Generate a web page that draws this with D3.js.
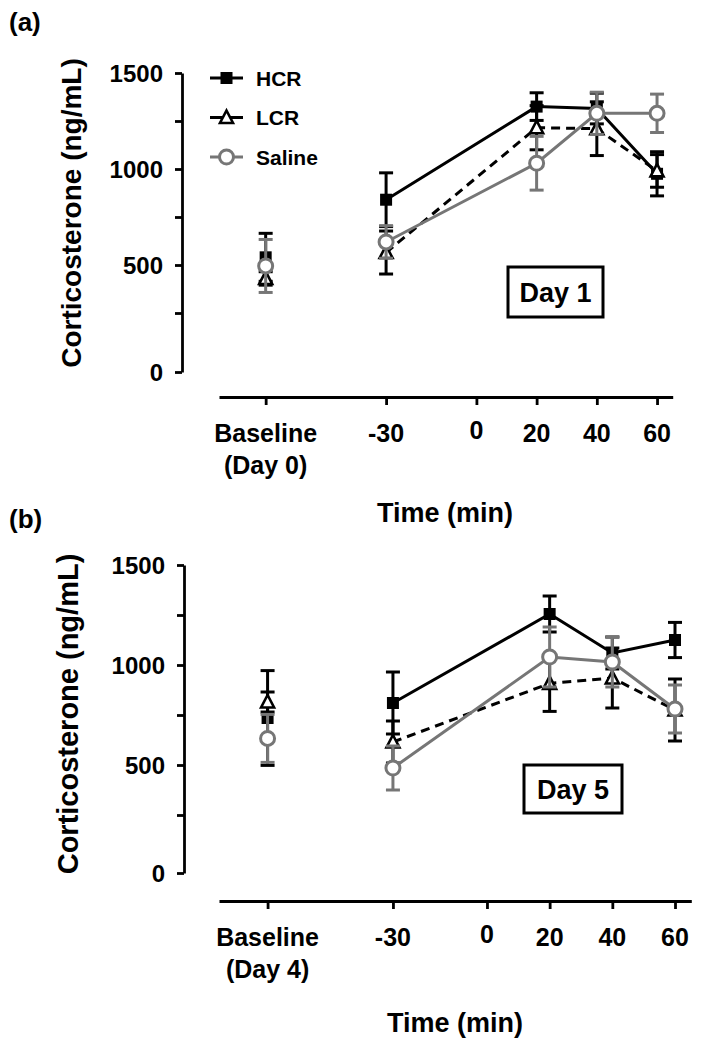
<!DOCTYPE html>
<html>
<head>
<meta charset="utf-8">
<script src="https://cdn.jsdelivr.net/npm/d3@7/dist/d3.min.js"></script>
<style>
  body { margin: 0; background: #fff; }
  svg { display: block; font-family: "Liberation Sans", Arial, sans-serif; font-weight: bold; }
</style>
</head>
<body>
<svg id="chart" width="711" height="1050"></svg>
<script>
// x categories: baseline is drawn left of the time axis, not joined by lines
const xCats = ["Baseline", "-30", "20", "40", "60"];
const xTickLabels = ["Baseline", "-30", "0", "20", "40", "60"];
const yTicks = [0, 250, 500, 750, 1000, 1250, 1500];
const seriesNames = ["HCR", "LCR", "Saline"];

// Day 1 (panel a), values per xCats
const hcrDay1 = [540, 840, 1325, 1315, 975];
const hcrDay1Sem = [125, 140, 72, 80, 115];
const lcrDay1 = [430, 565, 1215, 1210, 990];
const lcrDay1Sem = [35, 112, 115, 140, 85];
const salDay1 = [495, 620, 1030, 1290, 1290];
const salDay1Sem = [138, 85, 140, 110, 100];

// Day 5 (panel b)
const hcrDay5 = [735, 810, 1255, 1060, 1125];
const hcrDay5Sem = [237, 155, 90, 80, 88];
const lcrDay5 = [815, 615, 908, 935, 775];
const lcrDay5Sem = [50, 105, 140, 150, 155];
const salDay5 = [633, 485, 1040, 1015, 780];
const salDay5Sem = [120, 110, 150, 125, 120];

const GRAY = "#767676";
const styles = {
  HCR: { color: "#000", dash: null, symbol: "square" },
  LCR: { color: "#000", dash: "9,6", symbol: "triangle" },
  Saline: { color: GRAY, dash: null, symbol: "circle" }
};

const svg = d3.select("#chart");

// baseline sits at this pseudo-time on the linear time scale
const BASE_T = -70;
const tPos = c => c === "Baseline" ? BASE_T : +c;

function drawMarker(g, symbol, cx, cy, color) {
  if (symbol === "square") {
    g.append("rect").attr("x", cx - 6).attr("y", cy - 6)
      .attr("width", 12).attr("height", 12).attr("fill", color);
  } else if (symbol === "triangle") {
    g.append("path")
      .attr("d", `M${cx},${cy - 7} L${cx + 6.5},${cy + 5.5} L${cx - 6.5},${cy + 5.5} Z`)
      .attr("fill", "#fff").attr("stroke", color).attr("stroke-width", 2.6);
  } else {
    g.append("circle").attr("cx", cx).attr("cy", cy).attr("r", 7)
      .attr("fill", "#fff").attr("stroke", color).attr("stroke-width", 3);
  }
}

function drawPanel(cfg) {
  const x = d3.scaleLinear().domain([-85.5, 65.2]).range(cfg.xRange);
  // the zero tick sits a little below the linear run of the other ticks
  const y = d3.scaleLinear().domain([0, 250, 1500]).range(cfg.yRange);

  const g = svg.append("g");

  // panel letter
  g.append("text").attr("x", 9).attr("y", cfg.letterY)
    .attr("font-size", 26).text(cfg.letter);

  // y axis
  const yAxis = g.append("g")
    .attr("transform", `translate(${cfg.yAxisX},0)`)
    .call(d3.axisLeft(y).tickValues(yTicks).tickSize(7).tickSizeOuter(0).tickPadding(12)
      .tickFormat(d => d % 500 === 0 ? d : ""));
  yAxis.select(".domain").attr("stroke-width", 2.8);
  yAxis.selectAll(".tick line").attr("stroke-width", 2.8);
  yAxis.selectAll("text").attr("font-size", 24).attr("font-family", "Liberation Sans, Arial")
    .attr("font-weight", "bold").attr("fill", "#000").attr("dy", "0.34em");

  // y title
  g.append("text")
    .attr("transform", `translate(${cfg.yTitleX},${cfg.yTitleY}) rotate(-90)`)
    .attr("text-anchor", "middle").attr("font-size", cfg.yTitleSize)
    .text("Corticosterone (ng/mL)");

  // x axis
  const tickVals = xTickLabels.map(tPos);
  const xAxis = g.append("g")
    .attr("transform", `translate(0,${cfg.xAxisY})`)
    .call(d3.axisBottom(x).tickValues(tickVals).tickSize(8).tickSizeOuter(0).tickFormat(""));
  xAxis.select(".domain").attr("stroke-width", 3);
  xAxis.selectAll(".tick line").attr("stroke-width", 2.8);

  xTickLabels.forEach((lab, i) => {
    const t = g.append("text").attr("text-anchor", "middle").attr("font-size", 25)
      .attr("x", x(tickVals[i])).attr("y", cfg.xAxisY + 45);
    if (lab === "Baseline") {
      t.append("tspan").attr("x", x(tickVals[i])).text("Baseline");
      t.append("tspan").attr("x", x(tickVals[i])).attr("dy", 32).text(cfg.baseLabel);
    } else {
      t.text(lab);
      if (lab === "0") t.attr("y", cfg.xAxisY + 42);
    }
  });

  g.append("text").attr("text-anchor", "middle").attr("font-size", 27)
    .attr("x", cfg.xTitleX).attr("y", cfg.xTitleY).text("Time (min)");

  // series
  seriesNames.forEach(name => {
    const st = styles[name];
    const vals = cfg.data[name].mean;
    const sem = cfg.data[name].sem;
    const pts = xCats.map((c, i) => ({ t: tPos(c), v: vals[i], e: sem[i], cat: c }));
    const sg = g.append("g");

    // error bars
    pts.forEach(p => {
      const px = x(p.t);
      const y1 = y(p.v + p.e), y0 = y(p.v - p.e);
      sg.append("line").attr("x1", px).attr("x2", px).attr("y1", y1).attr("y2", y0)
        .attr("stroke", st.color).attr("stroke-width", 3);
      [y1, y0].forEach(yy => sg.append("line")
        .attr("x1", px - 7).attr("x2", px + 7).attr("y1", yy).attr("y2", yy)
        .attr("stroke", st.color).attr("stroke-width", 3));
    });

    // connecting line (time points only)
    const line = d3.line().x(p => x(p.t)).y(p => y(p.v));
    sg.append("path").datum(pts.filter(p => p.cat !== "Baseline"))
      .attr("d", line).attr("fill", "none").attr("stroke", st.color)
      .attr("stroke-width", 3).attr("stroke-dasharray", st.dash);

    pts.forEach(p => drawMarker(sg, st.symbol, x(p.t), y(p.v), st.color));
  });

  // day box
  const b = cfg.dayBox;
  g.append("rect").attr("x", b.x).attr("y", b.y).attr("width", b.w).attr("height", b.h)
    .attr("fill", "#fff").attr("stroke", "#000").attr("stroke-width", 3);
  g.append("text").attr("x", b.x + b.w / 2).attr("y", b.y + b.h / 2 + 10)
    .attr("text-anchor", "middle").attr("font-size", 27).text(b.label);

  if (cfg.legend) {
    seriesNames.forEach((name, i) => {
      const st = styles[name];
      const ly = 78 + i * 39.5;
      g.append("line").attr("x1", 210).attr("x2", 243).attr("y1", ly).attr("y2", ly)
        .attr("stroke", st.color).attr("stroke-width", 3);
      drawMarker(g, st.symbol, 226.5, ly, st.color);
      g.append("text").attr("x", 256).attr("y", ly + 7.5).attr("font-size", 21).text(name);
    });
  }
}

drawPanel({
  letter: "(a)", letterY: 31,
  xRange: [219, 672.7], yRange: [372, 313, 73],
  yAxisX: 182, xAxisY: 397,
  yTitleX: 81, yTitleY: 213, yTitleSize: 28,
  xTitleX: 445, xTitleY: 522,
  baseLabel: "(Day 0)",
  dayBox: { x: 508, y: 267, w: 95, h: 50, label: "Day 1" },
  legend: true,
  data: {
    HCR: { mean: hcrDay1, sem: hcrDay1Sem },
    LCR: { mean: lcrDay1, sem: lcrDay1Sem },
    Saline: { mean: salDay1, sem: salDay1Sem }
  }
});

drawPanel({
  letter: "(b)", letterY: 528,
  xRange: [219, 691.3], yRange: [873, 815, 565],
  yAxisX: 184, xAxisY: 901,
  yTitleX: 78, yTitleY: 714, yTitleSize: 29,
  xTitleX: 455, xTitleY: 1032,
  baseLabel: "(Day 4)",
  dayBox: { x: 524, y: 765, w: 98, h: 48, label: "Day 5" },
  legend: false,
  data: {
    HCR: { mean: hcrDay5, sem: hcrDay5Sem },
    LCR: { mean: lcrDay5, sem: lcrDay5Sem },
    Saline: { mean: salDay5, sem: salDay5Sem }
  }
});
</script>
</body>
</html>
